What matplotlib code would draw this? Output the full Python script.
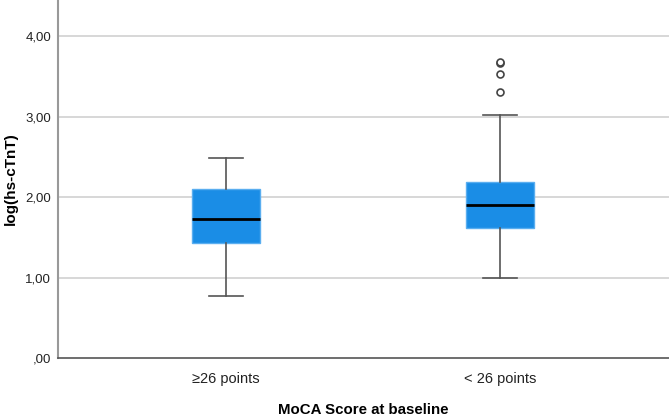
import matplotlib.pyplot as plt

plt.rcParams['font.family'] = ['Liberation Sans', 'DejaVu Sans']

groups = ['≥26 points', '< 26 points']
whislo = [0.77, 0.99]
q1 = [1.43, 1.62]
med = [1.73, 1.90]
q3 = [2.10, 2.19]
whishi = [2.49, 3.02]
fliers = [[], [3.31, 3.53, 3.67, 3.68]]
yticks = [0, 1, 2, 3, 4]
ytick_labels = [',00', '1,00', '2,00', '3,00', '4,00']

stats = []
for i in range(len(groups)):
    stats.append({'label': groups[i], 'whislo': whislo[i], 'q1': q1[i], 'med': med[i],
                  'q3': q3[i], 'whishi': whishi[i], 'fliers': fliers[i]})

fig = plt.figure(figsize=(6.69, 4.19), dpi=100)
ax = fig.add_axes([0.0867, 0.1456, 0.9133, 0.8544])

ax.bxp(stats, positions=[1, 2], widths=0.25, capwidths=0.124, patch_artist=True,
       boxprops=dict(facecolor='#1a8de6', edgecolor='#5aaef0', linewidth=1),
       medianprops=dict(color='black', linewidth=2),
       whiskerprops=dict(color='#555555', linewidth=1.2),
       capprops=dict(color='#555555', linewidth=1.2),
       flierprops=dict(marker='o', markerfacecolor='white', markeredgecolor='#444444',
                       markersize=5, markeredgewidth=1.2),
       zorder=3)

for y in yticks[1:]:
    ax.axhline(y, color='#d4d4d4', linewidth=1.3, zorder=1)

ax.set_xlim(0.387, 2.617)
ax.set_ylim(0, 4.45)
ax.set_yticks(yticks)
ax.set_yticklabels(ytick_labels, fontsize=9.5, color='#222222')
ax.set_xticks([1, 2])
ax.set_xticklabels(groups, fontsize=10.5, color='#222222')
ax.tick_params(length=0, axis='y', pad=5)
ax.tick_params(length=0, axis='x', pad=10)

for s in ['top', 'right']:
    ax.spines[s].set_visible(False)
ax.spines['left'].set_color('#999999')
ax.spines['left'].set_linewidth(1.5)
ax.spines['bottom'].set_color('#555555')
ax.spines['bottom'].set_linewidth(1.2)

ax.set_ylabel('log(hs-cTnT)', fontsize=11, fontweight='bold')
ax.yaxis.set_label_coords(-0.066, 0.5)
ax.set_xlabel('MoCA Score at baseline', fontsize=10.8, fontweight='bold', labelpad=12)

fig.savefig('out.png', dpi=100)
